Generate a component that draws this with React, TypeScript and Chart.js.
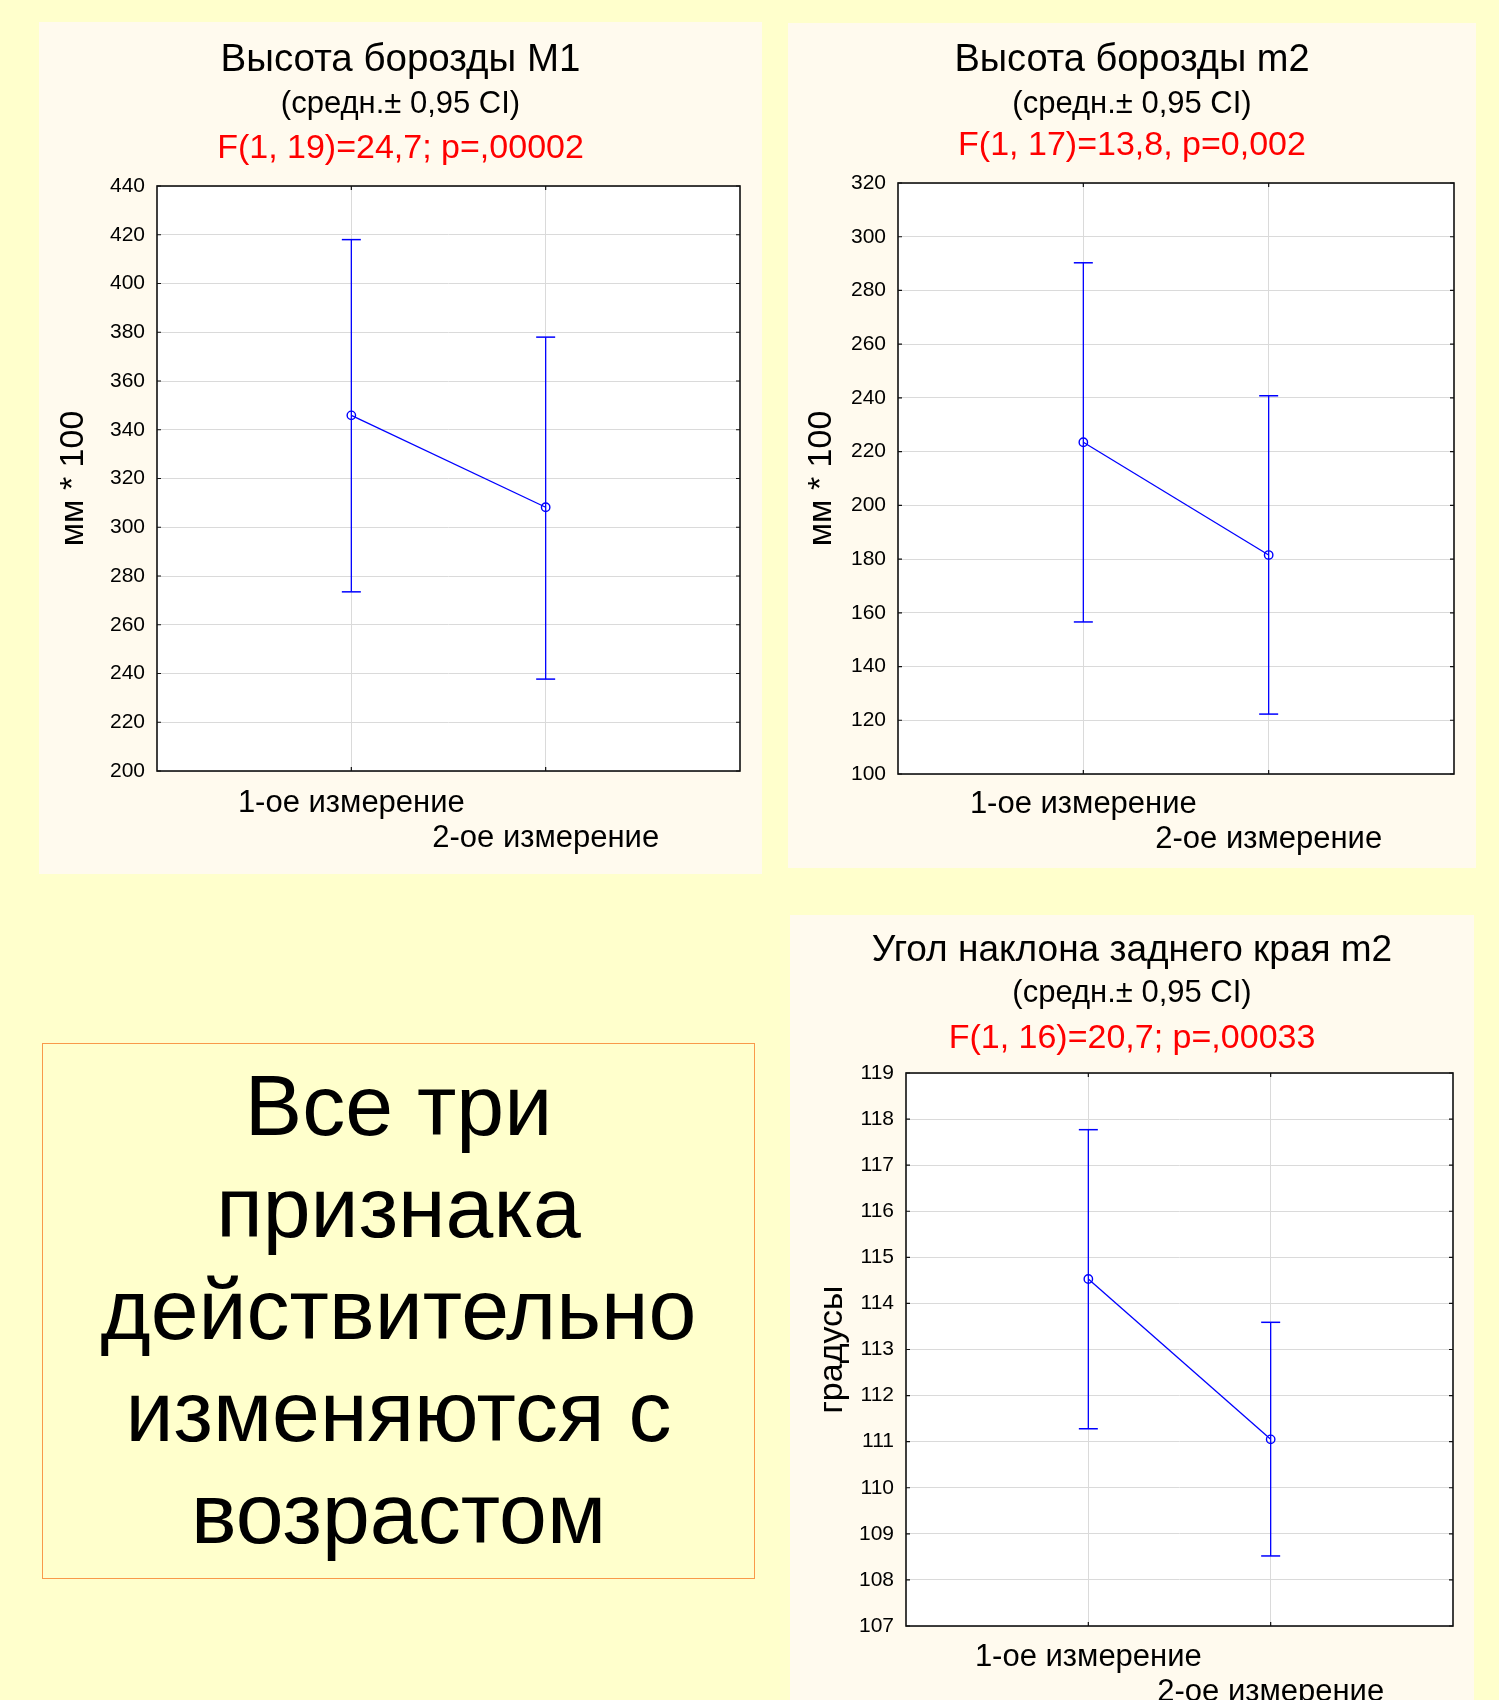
import React, { useEffect, useRef } from "react";
import { Chart, registerables } from "chart.js";

Chart.register(...registerables);

// ---------- data ----------
const categories = ["1-ое измерение", "2-ое измерение"];

const m1Means = [345.9, 308.2];
const m1Upper = [418.0, 378.0];
const m1Lower = [273.5, 237.7];
const m1Ticks = [200, 220, 240, 260, 280, 300, 320, 340, 360, 380, 400, 420, 440];

const m2Means = [223.5, 181.5];
const m2Upper = [290.3, 240.8];
const m2Lower = [156.6, 122.3];
const m2Ticks = [100, 120, 140, 160, 180, 200, 220, 240, 260, 280, 300, 320];

const angMeans = [114.53, 111.05];
const angUpper = [117.77, 113.59];
const angLower = [111.28, 108.52];
const angTicks = [107, 108, 109, 110, 111, 112, 113, 114, 115, 116, 117, 118, 119];

const summaryLines = ["Все три", "признака", "действительно", "изменяются с", "возрастом"];

// ---------- styles ----------
const FONT = "'Liberation Sans', Arial, Helvetica, sans-serif";
const BLUE = "#0000ff";
const GRID = "#dadada";
const PAGE_BG = "#ffffcc";
const PANEL_BG = "#fffaee";

type PanelSpec = {
  box: [number, number, number, number]; // left, top, width, height
  plot: [number, number, number, number]; // left, top, right, bottom
  title: string;
  subtitle: string;
  stat: string;
  headerY: [number, number, number];
  titleSize: number;
  yTitle: string;
  yTitleCenter: number;
  xLabelPad: number;
  yTicks: number[];
  means: number[];
  upper: number[];
  lower: number[];
};

const panels: PanelSpec[] = [
  {
    box: [39, 22, 723, 852],
    plot: [157, 186, 740, 771],
    title: "Высота борозды M1",
    subtitle: "(средн.± 0,95 CI)",
    stat: "F(1, 19)=24,7; p=,00002",
    headerY: [36, 80.5, 124],
    titleSize: 38.5,
    yTitle: "мм * 100",
    yTitleCenter: 35,
    xLabelPad: 14,
    yTicks: m1Ticks,
    means: m1Means,
    upper: m1Upper,
    lower: m1Lower,
  },
  {
    box: [788, 23, 688, 845],
    plot: [898, 183, 1454, 774],
    title: "Высота борозды m2",
    subtitle: "(средн.± 0,95 CI)",
    stat: "F(1, 17)=13,8, p=0,002",
    headerY: [35, 80, 120.3],
    titleSize: 38,
    yTitle: "мм * 100",
    yTitleCenter: 33.6,
    xLabelPad: 12,
    yTicks: m2Ticks,
    means: m2Means,
    upper: m2Upper,
    lower: m2Lower,
  },
  {
    box: [790, 915, 684, 785],
    plot: [906, 1073, 1453, 1626],
    title: "Угол наклона заднего края m2",
    subtitle: "(средн.± 0,95 CI)",
    stat: "F(1, 16)=20,7; p=,00033",
    headerY: [34, 76.7, 120.7],
    titleSize: 37,
    yTitle: "градусы",
    yTitleCenter: 42.5,
    xLabelPad: 13,
    yTicks: angTicks,
    means: angMeans,
    upper: angUpper,
    lower: angLower,
  },
];

const framePlugin = {
  id: "plotFrame",
  beforeDraw(chart: any) {
    const { ctx, chartArea } = chart;
    const { left, top, right, bottom } = chartArea;
    ctx.save();
    ctx.fillStyle = "#ffffff";
    ctx.fillRect(left, top, right - left, bottom - top);
    ctx.restore();
  },
  afterDraw(chart: any) {
    const { ctx, chartArea } = chart;
    const { left, top, right, bottom } = chartArea;
    ctx.save();
    ctx.strokeStyle = "#111111";
    ctx.lineWidth = 1.6;
    ctx.strokeRect(left, top, right - left, bottom - top);
    ctx.lineWidth = 1.2;
    const ys = chart.scales.y;
    const xs = chart.scales.x;
    ctx.beginPath();
    ys.ticks.forEach((t: any) => {
      const py = ys.getPixelForValue(t.value);
      ctx.moveTo(left, py);
      ctx.lineTo(left + 4, py);
      ctx.moveTo(right, py);
      ctx.lineTo(right - 4, py);
    });
    xs.ticks.forEach((t: any) => {
      const px = xs.getPixelForValue(t.value);
      ctx.moveTo(px, bottom);
      ctx.lineTo(px, bottom - 4);
      ctx.moveTo(px, top);
      ctx.lineTo(px, top + 4);
    });
    ctx.stroke();
    ctx.restore();
  },
};

function ErrorPanel({ spec }: { spec: PanelSpec }) {
  const ref = useRef<HTMLCanvasElement | null>(null);
  const [bl, bt, bw, bh] = spec.box;
  const [pl, pt, pr, pb] = spec.plot;

  useEffect(() => {
    if (!ref.current) return;
    const yAxisW = pl - bl;
    const xAxisH = bt + bh - pb;
    const padTop = pt - bt;
    const padRight = bl + bw - pr;

    const errorSets = categories.map((c, i) => ({
      label: c + " CI",
      data: [
        { x: i + 1, y: spec.lower[i] },
        { x: i + 1, y: spec.upper[i] },
      ],
      showLine: true,
      borderColor: BLUE,
      borderWidth: 1.3,
      pointStyle: "line" as const,
      pointRadius: 9.5,
      pointHoverRadius: 9.5,
      pointBorderColor: BLUE,
      pointBorderWidth: 1.5,
      order: 2,
    }));

    const meanSet = {
      label: "mean",
      data: categories.map((_, i) => ({ x: i + 1, y: spec.means[i] })),
      showLine: true,
      borderColor: BLUE,
      borderWidth: 1.3,
      pointStyle: "circle" as const,
      pointRadius: 4.2,
      pointHoverRadius: 4.2,
      pointBackgroundColor: "rgba(0,0,0,0)",
      pointBorderColor: BLUE,
      pointBorderWidth: 1.4,
      order: 1,
    };

    const yt = spec.yTicks;
    const yTitleSize = 34;
    const chart = new Chart(ref.current, {
      type: "scatter",
      data: { datasets: [...errorSets, meanSet] as any },
      options: {
        animation: false,
        responsive: false,
        maintainAspectRatio: false,
        events: [],
        layout: { padding: { top: padTop, right: padRight, left: 0, bottom: 0 } },
        plugins: {
          legend: { display: false },
          tooltip: { enabled: false },
          title: { display: false },
        },
        scales: {
          x: {
            type: "linear",
            min: 0,
            max: categories.length + 1,
            afterBuildTicks: (s: any) => {
              s.ticks = categories.map((_, i) => ({ value: i + 1 }));
            },
            afterFit: (s: any) => {
              s.height = xAxisH;
            },
            grid: { color: GRID, lineWidth: 1, drawTicks: false },
            border: { display: false },
            ticks: {
              padding: spec.xLabelPad,
              color: "#000",
              maxRotation: 0,
              minRotation: 0,
              autoSkip: false,
              font: { family: FONT, size: 31, lineHeight: 1.16 },
              callback: (v: any) => {
                const i = Math.round(Number(v)) - 1;
                return categories.map((c, j) => (j === i ? c : ""));
              },
            },
          },
          y: {
            type: "linear",
            min: yt[0],
            max: yt[yt.length - 1],
            afterBuildTicks: (s: any) => {
              s.ticks = yt.map((v) => ({ value: v }));
            },
            afterFit: (s: any) => {
              s.width = yAxisW;
            },
            grid: { color: GRID, lineWidth: 1, drawTicks: false },
            border: { display: false },
            ticks: {
              padding: 12,
              color: "#000",
              font: { family: FONT, size: 21 },
            },
            title: {
              display: true,
              text: spec.yTitle,
              color: "#000",
              font: { family: FONT, size: yTitleSize, lineHeight: 1.2 },
              padding: { top: spec.yTitleCenter - (yTitleSize * 1.2) / 2, bottom: 0 },
            },
          },
        },
      },
      plugins: [framePlugin],
    });
    return () => chart.destroy();
  }, [spec]);

  const lineStyle = (center: number, size: number, color: string): React.CSSProperties => ({
    position: "absolute",
    left: 0,
    width: "100%",
    top: center - 22,
    height: 44,
    lineHeight: "44px",
    textAlign: "center",
    whiteSpace: "nowrap",
    fontFamily: FONT,
    fontSize: size,
    color,
    pointerEvents: "none",
  });

  return (
    <div
      style={{
        position: "absolute",
        left: bl,
        top: bt,
        width: bw,
        height: bh,
        background: PANEL_BG,
      }}
    >
      <canvas
        ref={ref}
        width={bw}
        height={bh}
        style={{ position: "absolute", left: 0, top: 0, width: bw, height: bh, display: "block" }}
      />
      <div style={lineStyle(spec.headerY[0], spec.titleSize, "#000")}>{spec.title}</div>
      <div style={lineStyle(spec.headerY[1], 31, "#000")}>{spec.subtitle}</div>
      <div style={lineStyle(spec.headerY[2], 34, "#ff0000")}>{spec.stat}</div>
    </div>
  );
}

export default function App() {
  return (
    <div
      style={{
        position: "absolute",
        left: 0,
        top: 0,
        width: 1499,
        height: 1700,
        background: PAGE_BG,
        overflow: "hidden",
        fontFamily: FONT,
      }}
    >
      {panels.map((p, i) => (
        <ErrorPanel key={i} spec={p} />
      ))}
      <div
        style={{
          position: "absolute",
          left: 42,
          top: 1043,
          width: 713,
          height: 536,
          boxSizing: "border-box",
          border: "1.5px solid #f9994a",
          background: PAGE_BG,
          textAlign: "center",
          fontFamily: FONT,
          fontSize: 86,
          lineHeight: "102px",
          paddingTop: 10,
          color: "#000",
        }}
      >
        {summaryLines.map((l, i) => (
          <div key={i} style={{ whiteSpace: "nowrap" }}>
            {l}
          </div>
        ))}
      </div>
    </div>
  );
}
